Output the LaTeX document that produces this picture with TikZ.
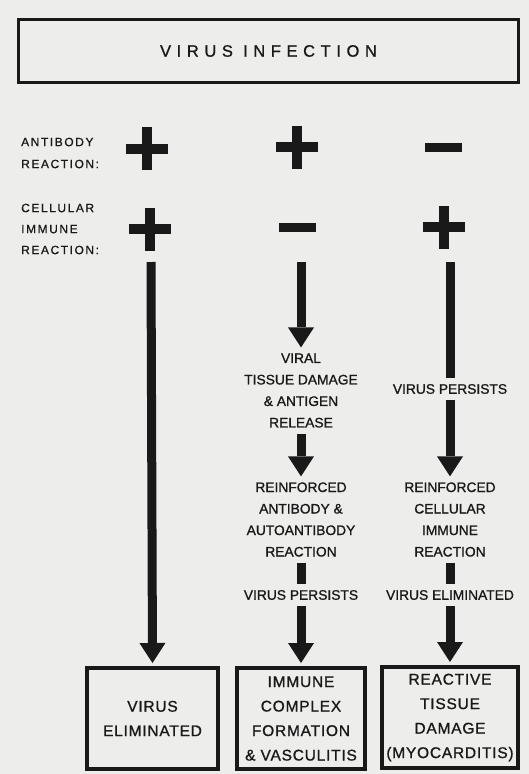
\documentclass[tikz,border=0pt]{standalone}
\usepackage{fontspec}
\setmainfont{Liberation Sans}
\newfontfamily\titlefont[LetterSpace=34,FakeBold=1]{Liberation Sans}
\newfontfamily\labfont[LetterSpace=13,FakeBold=0.8]{Liberation Sans}
\newfontfamily\colfont[FakeBold=1]{Liberation Sans}
\newfontfamily\boxfont[LetterSpace=5,FakeBold=1]{Liberation Sans}
\usetikzlibrary{arrows.meta}
\definecolor{bg}{RGB}{237,237,235}
\definecolor{ink}{RGB}{25,25,25}
\begin{document}
\begin{tikzpicture}[x=1pt,y=-1pt,
  every node/.style={text=ink},
  titlebox/.style={draw=ink,line width=3.5pt,minimum width=500pt,minimum height=63pt,inner sep=0pt,font=\titlefont\fontsize{16.5}{18}\selectfont},
  sidelabel/.style={align=left,anchor=west,inner sep=0pt},
  coltext/.style={align=center,inner sep=0pt,outer sep=6pt,font=\colfont\fontsize{13.8}{21.5}\selectfont},
  endbox/.style={draw=ink,line width=4pt,minimum height=101pt,inner sep=0pt,outer sep=5pt,align=center,font=\boxfont\fontsize{15.5}{24.5}\selectfont},
  bigarrow/.style={draw=ink,line width=9pt,-{Triangle[width=26pt,length=20pt,line width=0pt]}},
  thickbar/.style={draw=ink,line width=9pt},
  plussign/.pic={\fill[ink] (-21,-5) rectangle (21,5); \fill[ink] (-5,-21.5) rectangle (5,21.5);},
  minussign/.pic={\fill[ink] (-18.5,-4.5) rectangle (18.5,4.5);}
]
\fill[bg] (0,0) rectangle (529,774);
\useasboundingbox (0,0) rectangle (529,774);

% title
\node[titlebox] (title) at (268.5,51) {VIRUS INFECTION};

% side labels
\node[sidelabel,font=\labfont\fontsize{12}{22}\selectfont] (ablab) at (21,153) {ANTIBODY\\REACTION:};
\node[sidelabel,font=\labfont\fontsize{12}{21}\selectfont] (cilab) at (21,229) {CELLULAR\\IMMUNE\\REACTION:};

% signs
\pic at (147,148.5) {plussign};
\pic at (297,147) {plussign};
\pic at (443.5,147.5) {minussign};
\pic at (150,229) {plussign};
\pic at (297.5,227.5) {minussign};
\pic at (444,227) {plussign};

% column starts
\coordinate (s1) at (151,262);
\coordinate (s2) at (301,262);
\coordinate (s3) at (450,262);

% column 2 texts
\node[coltext] (v2a) at (301,390.5) {VIRAL\\TISSUE DAMAGE\\\& ANTIGEN\\RELEASE};
\node[coltext] (v2b) at (301,519.5) {REINFORCED\\ANTIBODY \&\\AUTOANTIBODY\\REACTION};
\node[coltext] (v2c) at (301,595) {VIRUS PERSISTS};

% column 3 texts
\node[coltext] (v3a) at (450,389) {VIRUS PERSISTS};
\node[coltext] (v3b) at (450,519.5) {REINFORCED\\CELLULAR\\IMMUNE\\REACTION};
\node[coltext] (v3c) at (450,595) {VIRUS ELIMINATED};

% end boxes
\node[endbox,minimum width=131pt] (b1) at (152.5,718.5) {VIRUS\\ELIMINATED};
\node[endbox,minimum width=128pt] (b2) at (301,718.5) {IMMUNE\\COMPLEX\\FORMATION\\\& VASCULITIS};
\node[endbox,minimum width=136pt] (b3) at (450,717.5) {REACTIVE\\TISSUE\\DAMAGE\\(MYOCARDITIS)};

% connectors
\draw[bigarrow] (s1) -- (b1.north);
\draw[bigarrow] (s2) -- (v2a.north);
\draw[bigarrow] (v2a.south) -- (v2b.north);
\draw[thickbar] (v2b.south) -- (v2c.north);
\draw[bigarrow] (v2c.south) -- (b2.north);
\draw[thickbar] (s3) -- (v3a.north);
\draw[bigarrow] (v3a.south) -- (v3b.north);
\draw[thickbar] (v3b.south) -- (v3c.north);
\draw[bigarrow] (v3c.south) -- (b3.north);
\end{tikzpicture}
\end{document}
